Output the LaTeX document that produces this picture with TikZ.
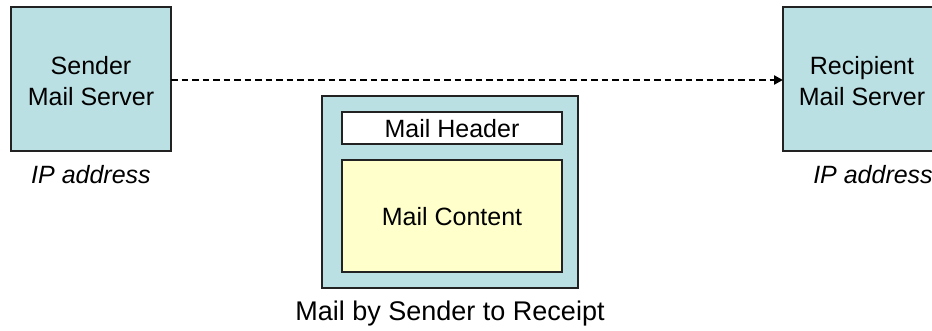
\documentclass[tikz,border=0pt]{standalone}
\usepackage{fontspec}
\setmainfont{Liberation Sans}
\usetikzlibrary{arrows.meta}
\definecolor{srvcyan}{HTML}{BBE0E3}
\definecolor{contyellow}{HTML}{FFFFCC}
\definecolor{edgegray}{HTML}{222222}
\tikzset{
  box/.style={draw=edgegray, line width=1.2pt, inner sep=0pt, outer sep=0pt},
  lbl/.style={font=\fontsize{25}{30.5}\selectfont, align=center, inner sep=0pt},
  flow/.style={line width=2.6pt, dash pattern=on 6.5pt off 4pt, -{Triangle[length=9pt,width=9pt]}}
}
\begin{document}
\begin{tikzpicture}[x=1pt,y=-1pt]
\useasboundingbox (0,0) rectangle (932,330);
\clip (0,0) rectangle (932,330);
\fill[white] (0,0) rectangle (932,330);
% servers
\node[box, fill=srvcyan, minimum width=160pt, minimum height=144pt] (snd) at (91,79) {};
\node[lbl] (sndt) at (91,81) {Sender\\Mail Server};
\node[box, fill=srvcyan, minimum width=160pt, minimum height=144pt] (rcp) at (863,79) {};
\node[lbl] (rcpt) at (862,81) {Recipient\\Mail Server};
\node[lbl, font=\fontsize{25}{30}\selectfont\itshape] (sip) at (91,175) {IP address};
\node[lbl, font=\fontsize{25}{30}\selectfont\itshape] (rip) at (873,175) {IP address};
% flow
\draw[flow] (snd.east |- 0,80) -- (rcp.west |- 0,80);
% mail
\node[box, fill=srvcyan, minimum width=256pt, minimum height=192pt] (mail) at (450,192) {};
\node[box, fill=white, minimum width=220pt, minimum height=32pt] (hdr) at (452,128) {};
\node[lbl] (hdrt) at (452,129) {Mail Header};
\node[box, fill=contyellow, minimum width=220pt, minimum height=112pt] (cnt) at (452,216) {};
\node[lbl] (cntt) at (452,217) {Mail Content};
\node[lbl, font=\fontsize{27}{32}\selectfont] (cap) at (450,314) {Mail by Sender to Receipt};
\end{tikzpicture}
\end{document}
